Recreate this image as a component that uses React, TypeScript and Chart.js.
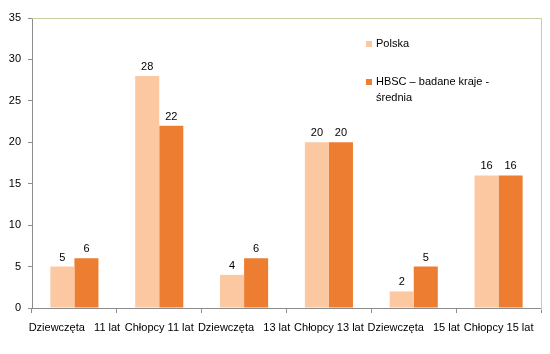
import React, { useEffect, useRef } from "react";
import { Chart, registerables } from "chart.js";

Chart.register(...registerables);

const categories = [
  "Dziewczęta   11 lat",
  "Chłopcy 11 lat",
  "Dziewczęta   13 lat",
  "Chłopcy 13 lat",
  "Dziewczęta   15 lat",
  "Chłopcy 15 lat",
];
const polska = [5, 28, 4, 20, 2, 16];
const hbsc = [6, 22, 6, 20, 5, 16];
const seriesNames = ["Polska", "HBSC – badane kraje - średnia"];
const legendLines = [["Polska"], ["HBSC – badane kraje -", "średnia"]];
const yTicks = [0, 5, 10, 15, 20, 25, 30, 35];

const FONT = "'Liberation Sans', Arial, sans-serif";

const valueLabels = {
  id: "valueLabels",
  afterDatasetsDraw(chart: any) {
    const ctx = chart.ctx;
    ctx.save();
    ctx.font = `11px ${FONT}`;
    ctx.fillStyle = "#000";
    ctx.textAlign = "center";
    ctx.textBaseline = "alphabetic";
    chart.data.datasets.forEach((ds: any, i: number) => {
      const meta = chart.getDatasetMeta(i);
      meta.data.forEach((bar: any, j: number) => {
        ctx.fillText(String(ds.data[j]), bar.x, bar.y - 6);
      });
    });
    ctx.restore();
  },
};

const frameAndLegend = {
  id: "frameAndLegend",
  afterDraw(chart: any) {
    const ctx = chart.ctx;
    const a = chart.chartArea;
    ctx.save();
    ctx.strokeStyle = "#C5CDA3";
    ctx.lineWidth = 1;
    ctx.beginPath();
    ctx.moveTo(a.left, a.top + 0.5);
    ctx.lineTo(a.right + 0.5, a.top + 0.5);
    ctx.lineTo(a.right + 0.5, a.bottom + 2);
    ctx.stroke();

    ctx.font = `11px ${FONT}`;
    ctx.textBaseline = "middle";
    ctx.textAlign = "left";
    const lx = a.right - 175;
    const rows = [a.top + 26, a.top + 64];
    chart.data.datasets.forEach((ds: any, i: number) => {
      const y = rows[i];
      ctx.fillStyle = ds.backgroundColor;
      ctx.fillRect(lx, y - 3, 6, 6);
      ctx.fillStyle = "#000";
      legendLines[i].forEach((line: string, k: number) => {
        ctx.fillText(line, lx + 10, y + k * 16);
      });
    });
    ctx.restore();
  },
};

export default function App() {
  const ref = useRef<HTMLCanvasElement | null>(null);
  useEffect(() => {
    document.body.style.margin = "0";
    const chart = new Chart(ref.current!, {
      type: "bar",
      data: {
        labels: categories,
        datasets: [
          { label: seriesNames[0], data: polska, backgroundColor: "#FBC8A2" },
          { label: seriesNames[1], data: hbsc, backgroundColor: "#ED7D31" },
        ],
      },
      options: {
        animation: false,
        responsive: false,
        layout: { padding: { top: 18, right: 9, left: 0, bottom: 0 } },
        plugins: { legend: { display: false }, tooltip: { enabled: false } },
        datasets: { bar: { categoryPercentage: 0.567, barPercentage: 1 } },
        scales: {
          x: {
            grid: {
              drawOnChartArea: false,
              drawTicks: true,
              tickLength: 5,
              color: "#8C8C8C",
            },
            border: { color: "#8C8C8C" },
            ticks: {
              autoSkip: false,
              maxRotation: 0,
              minRotation: 0,
              color: "#000",
              padding: 8,
              font: { family: FONT, size: 11 },
            },
            afterFit: (s: any) => {
              s.height = 46;
            },
          },
          y: {
            min: 0,
            max: 35,
            afterBuildTicks: (s: any) => {
              s.ticks = yTicks.map((v) => ({ value: v }));
            },
            grid: {
              drawOnChartArea: false,
              drawTicks: true,
              tickLength: 4,
              color: "#8C8C8C",
            },
            border: { color: "#8C8C8C" },
            ticks: {
              color: "#000",
              padding: 7,
              font: { family: FONT, size: 11 },
            },
            afterFit: (s: any) => {
              s.width = 32;
            },
          },
        },
      },
      plugins: [valueLabels, frameAndLegend],
    });
    return () => chart.destroy();
  }, []);
  return (
    <div style={{ width: 550, height: 354, background: "#fff" }}>
      <canvas ref={ref} width={550} height={354} />
    </div>
  );
}
